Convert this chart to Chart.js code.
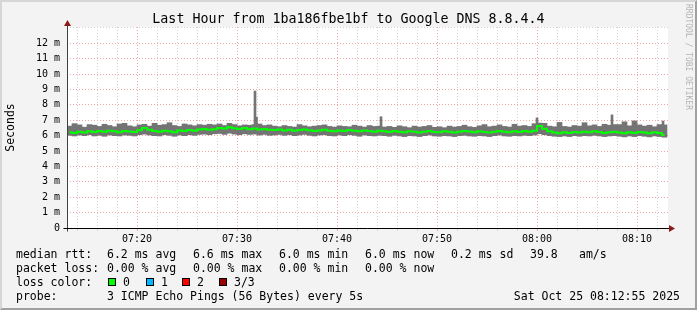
<!DOCTYPE html>
<html lang="en">
<head>
<meta charset="UTF-8">
<title>Last Hour from 1ba186fbe1bf to Google DNS 8.8.4.4</title>
<script src="https://cdn.jsdelivr.net/npm/chart.js"></script>
<style>
    body { margin: 0; background: #f3f3f3; }
    #page { position: relative; width: 697px; height: 310px; overflow: hidden; font-family: 'DejaVu Sans Mono', monospace; color: #000; }
    #chart { position: absolute; left: 0; top: 0; }
    #frame { position: absolute; left: 0; top: 0; width: 697px; height: 310px; box-sizing: border-box;
             border-top: 2px solid #d6d6d6; border-left: 2px solid #d6d6d6;
             border-right: 2px solid #a0a0a0; border-bottom: 2px solid #a0a0a0; pointer-events: none; }
    #title { position: absolute; left: 0; top: 11px; width: 697px; text-align: center; font-size: 13.3px; line-height: 16px; }
    #watermark { position: absolute; left: 684px; top: 4px; writing-mode: vertical-rl; font-size: 8px; color: #b4b4b4; }
    .t { position: absolute; white-space: pre; font-size: 11.5px; line-height: 14px; }
    .box { position: absolute; top: 278px; width: 8px; height: 8px; box-sizing: border-box; border: 1px solid #000; }
</style>
</head>
<body>
<div id="page">
    <canvas id="chart" width="697" height="310"></canvas>
    <div id="title">Last Hour from 1ba186fbe1bf to Google DNS 8.8.4.4</div>
    <div id="watermark">RRDTOOL / TOBI OETIKER</div>

    <div class="t" style="left:16px;top:247px">median rtt:</div>
    <div class="t" style="left:107px;top:247px">6.2 ms avg</div>
    <div class="t" style="left:193px;top:247px">6.6 ms max</div>
    <div class="t" style="left:279px;top:247px">6.0 ms min</div>
    <div class="t" style="left:365px;top:247px">6.0 ms now</div>
    <div class="t" style="left:451px;top:247px">0.2 ms sd</div>
    <div class="t" style="left:530px;top:247px">39.8</div>
    <div class="t" style="left:579px;top:247px">am/s</div>

    <div class="t" style="left:16px;top:261px">packet loss:</div>
    <div class="t" style="left:107px;top:261px">0.00 % avg</div>
    <div class="t" style="left:193px;top:261px">0.00 % max</div>
    <div class="t" style="left:279px;top:261px">0.00 % min</div>
    <div class="t" style="left:365px;top:261px">0.00 % now</div>

    <div class="t" style="left:16px;top:275px">loss color:</div>
    <div class="box" style="left:108px;background:#00ff00"></div>
    <div class="t" style="left:123px;top:275px">0</div>
    <div class="box" style="left:146px;background:#00b8ff"></div>
    <div class="t" style="left:161px;top:275px">1</div>
    <div class="box" style="left:182px;background:#ff0000"></div>
    <div class="t" style="left:197px;top:275px">2</div>
    <div class="box" style="left:219px;background:#990000"></div>
    <div class="t" style="left:234px;top:275px">3/3</div>

    <div class="t" style="left:16px;top:289px">probe:</div>
    <div class="t" style="left:107px;top:289px">3 ICMP Echo Pings (56 Bytes) every 5s</div>
    <div class="t" style="right:17px;top:289px">Sat Oct 25 08:12:55 2025</div>

    <div id="frame"></div>
</div>

<script>
    // one sample every 30 s, starting 07:13 (minutes after 07:00)
    const startMinute = 13;
    const stepMinute = 0.5;

    // median rtt (ms)
    const median = [
        6.22, 6.18, 6.25, 6.20, 6.28, 6.24, 6.30, 6.26, 6.32, 6.28, 6.22, 6.30, 6.27, 6.24,
        6.35, 6.50, 6.38, 6.30, 6.26, 6.32, 6.28, 6.22, 6.34, 6.30, 6.36, 6.32, 6.40,
        6.44, 6.38, 6.42, 6.50, 6.46, 6.55, 6.48, 6.44, 6.50, 6.42, 6.46, 6.40, 6.44, 6.38,
        6.36, 6.40, 6.34, 6.38, 6.32, 6.36, 6.40, 6.35, 6.30, 6.34, 6.38, 6.32, 6.28, 6.34, 6.30, 6.36, 6.32, 6.28, 6.34, 6.30, 6.26, 6.32,
        6.28, 6.24, 6.30, 6.26, 6.22, 6.28, 6.25, 6.20, 6.26, 6.30, 6.24, 6.22, 6.28, 6.25, 6.20, 6.26, 6.30, 6.27, 6.22, 6.28, 6.24, 6.20, 6.26, 6.30, 6.25, 6.22, 6.28, 6.24, 6.30, 6.26, 6.32,
        6.62, 6.45, 6.28, 6.20, 6.16, 6.22, 6.18, 6.24, 6.20, 6.26, 6.22, 6.28, 6.24, 6.18, 6.22, 6.26, 6.20, 6.16, 6.22, 6.18, 6.24, 6.20, 6.16, 6.22, 6.18, 6.05
    ];
    // smoke: lowest and highest ping (ms)
    const smokeMin = [
        6.02, 5.98, 6.04, 6.00, 6.06, 5.98, 6.02, 5.96, 6.04, 6.00, 5.98, 6.04, 6.02, 5.98,
        6.06, 6.10, 6.04, 6.00, 5.98, 6.06, 6.02, 5.96, 6.04, 6.00, 6.06, 6.02, 6.08,
        6.10, 6.06, 6.12, 6.14, 6.08, 6.16, 6.10, 6.06, 6.12, 6.08, 6.10, 6.04, 6.08, 6.02,
        6.04, 6.08, 6.02, 6.06, 6.00, 6.04, 6.08, 6.02, 5.98, 6.04, 6.06, 6.00, 5.98, 6.04, 6.00, 6.06, 6.02, 5.96, 6.04, 6.00, 5.98, 6.02,
        6.00, 5.96, 6.02, 5.98, 5.94, 6.00, 5.98, 5.94, 6.00, 6.04, 5.98, 5.96, 6.00, 5.98, 5.94, 6.00, 6.02, 5.98, 5.96, 6.00, 5.98, 5.94, 6.00, 6.04, 5.98, 5.96, 6.00, 5.98, 6.02, 6.00, 6.04,
        6.12, 6.06, 6.00, 5.96, 5.94, 5.98, 5.94, 6.00, 5.96, 6.00, 5.98, 6.02, 5.98, 5.94, 5.98, 6.00, 5.96, 5.92, 5.98, 5.94, 6.00, 5.96, 5.92, 5.98, 5.94, 5.90
    ];
    const smokeMax = [
        6.62, 6.78, 6.70, 6.55, 6.72, 6.68, 6.60, 6.74, 6.66, 6.58, 6.76, 6.80, 6.64, 6.58,
        6.70, 6.74, 6.62, 6.80, 6.68, 6.72, 6.84, 6.66, 6.60, 6.76, 6.70, 6.64, 6.72,
        6.68, 6.74, 6.70, 6.76, 6.66, 6.80, 6.72, 6.64, 6.70, 6.68, 6.72, 6.76, 6.66, 6.70,
        6.62, 6.58, 6.66, 6.60, 6.56, 6.72, 6.64, 6.58, 6.62, 6.66, 6.70, 6.60, 6.56, 6.64, 6.60, 6.58, 6.68, 6.62, 6.56, 6.66, 6.60, 6.62,
        6.56, 6.60, 6.54, 6.64, 6.58, 6.52, 6.62, 6.56, 6.60, 6.66, 6.54, 6.58, 6.52, 6.62, 6.56, 6.60, 6.68, 6.58, 6.54, 6.64, 6.72, 6.58, 6.62, 6.70, 6.60, 6.56, 6.74, 6.62, 6.66, 6.60, 6.78,
        6.82, 6.80, 6.62, 6.58, 6.86, 6.60, 6.56, 6.66, 6.62, 6.84, 6.64, 6.70, 6.60, 6.74, 6.68, 6.72, 6.72, 6.90, 6.64, 6.96, 6.70, 6.62, 6.68, 6.58, 6.72, 6.70
    ];

    // single slow pings, drawn as thin spikes
    const spikeTimes = [31.8, 31.95, 44.4, 60.0, 67.5, 72.6];
    const spikeTops = [8.9, 7.2, 7.23, 7.15, 7.35, 6.95];
    const spikeBases = [6.3, 6.3, 6.2, 6.4, 6.2, 6.0];

    const xGrid = [14, 16, 18, 20, 22, 24, 26, 28, 30, 32, 34, 36, 38, 40, 42, 44, 46, 48, 50, 52, 54, 56, 58, 60, 62, 64, 66, 68, 70, 72];
    const xTickValues = [20, 30, 40, 50, 60, 70];
    const xTickLabels = ['07:20', '07:30', '07:40', '07:50', '08:00', '08:10'];
    const yGrid = [0, 0.5, 1, 1.5, 2, 2.5, 3, 3.5, 4, 4.5, 5, 5.5, 6, 6.5, 7, 7.5, 8, 8.5, 9, 9.5, 10, 10.5, 11, 11.5, 12, 12.5, 13];
    const yTickLabels = ['0', '1 m', '2 m', '3 m', '4 m', '5 m', '6 m', '7 m', '8 m', '9 m', '10 m', '11 m', '12 m'];

    const times = median.map((_, i) => startMinute + stepMinute * (i + 0.5));

    const majorGrid = '#f2a6a6';
    const minorGrid = '#d2d2d2';
    const smokeColor = '#747474';
    const mono = 'DejaVu Sans Mono';

    // white plot area + axes with arrows like rrdtool
    const rrdLook = {
        id: 'rrdLook',
        beforeDraw(chart) {
            const { ctx, chartArea: a } = chart;
            ctx.save();
            ctx.fillStyle = '#ffffff';
            ctx.fillRect(a.left, a.top, a.right - a.left, a.bottom - a.top);
            ctx.restore();
        },
        afterDraw(chart) {
            const { ctx, chartArea: a } = chart;
            const x0 = Math.round(a.left) + 0.5;
            const y0 = Math.round(a.bottom) + 0.5;
            ctx.save();
            ctx.lineWidth = 1;
            ctx.strokeStyle = '#404040';
            ctx.beginPath();
            ctx.moveTo(x0, y0 + 3);
            ctx.lineTo(x0, a.top - 3);
            ctx.stroke();
            ctx.strokeStyle = '#000000';
            ctx.beginPath();
            ctx.moveTo(x0 - 4, y0);
            ctx.lineTo(a.right + 3, y0);
            ctx.stroke();
            ctx.fillStyle = '#8b1a1a';
            ctx.beginPath();
            ctx.moveTo(x0, a.top - 7);
            ctx.lineTo(x0 - 3.5, a.top - 1);
            ctx.lineTo(x0 + 3.5, a.top - 1);
            ctx.closePath();
            ctx.fill();
            ctx.beginPath();
            ctx.moveTo(a.right + 7, y0);
            ctx.lineTo(a.right + 1, y0 - 3.5);
            ctx.lineTo(a.right + 1, y0 + 3.5);
            ctx.closePath();
            ctx.fill();
            ctx.restore();
        }
    };

    const ctx = document.getElementById('chart').getContext('2d');

    new Chart(ctx, {
        type: 'bar',
        data: {
            datasets: [{
                type: 'line',
                label: 'median rtt',
                data: times.map((t, i) => ({ x: t, y: median[i] })),
                borderColor: '#00ff00',
                borderWidth: 2,
                pointRadius: 0,
                stepped: 'middle',
                order: 1
            }, {
                type: 'bar',
                label: 'smoke',
                data: times.map((t, i) => ({ x: t, y: [smokeMin[i], smokeMax[i]] })),
                backgroundColor: smokeColor,
                borderWidth: 0,
                barThickness: 5,
                grouped: false,
                order: 2
            }, {
                type: 'bar',
                label: 'spikes',
                data: spikeTimes.map((t, i) => ({ x: t, y: [spikeBases[i], spikeTops[i]] })),
                backgroundColor: smokeColor,
                borderWidth: 0,
                barThickness: 2,
                grouped: false,
                order: 3
            }]
        },
        options: {
            responsive: false,
            animation: false,
            layout: { padding: { left: 0, right: 29, top: 27, bottom: 62 } },
            plugins: {
                legend: { display: false },
                tooltip: { enabled: false }
            },
            scales: {
                x: {
                    type: 'linear',
                    min: 13,
                    max: 73.1,
                    offset: false,
                    afterBuildTicks: s => { s.ticks = xGrid.map(v => ({ value: v })); },
                    afterFit: s => { s.height = 20; },
                    grid: {
                        offset: false,
                        color: c => (c.tick && xTickValues.includes(c.tick.value)) ? majorGrid : minorGrid,
                        tickLength: 3
                    },
                    border: { display: false, dash: [1, 2] },
                    ticks: {
                        autoSkip: false,
                        maxRotation: 0,
                        padding: 2,
                        color: '#000',
                        font: { family: mono, size: 10 },
                        callback: v => {
                            const k = xTickValues.indexOf(v);
                            return k >= 0 ? xTickLabels[k] : '';
                        }
                    }
                },
                y: {
                    min: 0,
                    max: 13.06,
                    afterBuildTicks: s => { s.ticks = yGrid.map(v => ({ value: v })); },
                    afterFit: s => { s.width = 67; },
                    grid: {
                        color: c => (c.tick && Number.isInteger(c.tick.value) && c.tick.value <= 12) ? majorGrid : minorGrid,
                        drawTicks: false
                    },
                    border: { display: false, dash: [1, 2] },
                    ticks: {
                        padding: 7,
                        color: '#000',
                        font: { family: mono, size: 10 },
                        callback: v => (Number.isInteger(v) && v <= 12) ? yTickLabels[v] : ''
                    },
                    title: {
                        display: true,
                        text: 'Seconds',
                        color: '#000',
                        font: { family: mono, size: 11.5 },
                        padding: { top: 4, bottom: 0 }
                    }
                }
            }
        },
        plugins: [rrdLook]
    });
</script>
</body>
</html>
